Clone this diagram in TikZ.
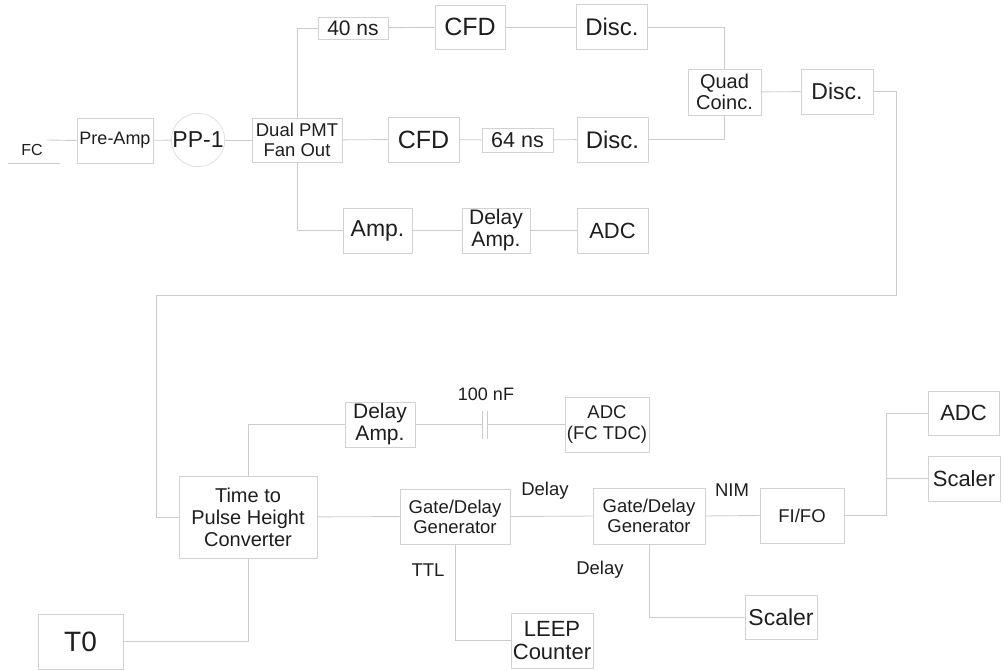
\documentclass[tikz,border=0pt]{standalone}
\usepackage{fontspec}
\setmainfont{Liberation Sans}
\definecolor{boxgray}{HTML}{D2D2D2}
\definecolor{linegray}{HTML}{CCCCCC}
\definecolor{circgray}{HTML}{E2E2E2}
\definecolor{txt}{HTML}{1E1E1E}
\begin{document}
\begin{tikzpicture}[x=1pt,y=-1pt,
  box/.style={draw=boxgray,line width=0.9pt,inner sep=0pt,align=center,text=txt},
  lbl/.style={inner sep=0pt,text=txt,align=center},
  wire/.style={draw=linegray,line width=0.9pt}]
\useasboundingbox (0,0) rectangle (1005,671);
% top section
\node[lbl,font=\fontsize{16}{18}\selectfont] (fc) at (32,150) {FC};
\node[box,minimum width=76,minimum height=45,font=\fontsize{18}{20}\selectfont] (pre) at (115,140.5) {Pre-Amp};
\node[box,draw=circgray,circle,minimum size=52,font=\fontsize{23}{25}\selectfont] (pp1) at (198,140) {PP-1};
\node[box,minimum width=90,minimum height=44,font=\fontsize{18.5}{20}\selectfont] (dual) at (297,140) {Dual PMT\\Fan Out};
\node[box,minimum width=70,minimum height=22,font=\fontsize{21}{22}\selectfont] (d40) at (353,28) {40 ns};
\node[box,minimum width=70,minimum height=44,font=\fontsize{25}{27}\selectfont] (cfd1) at (470,27) {CFD};
\node[box,minimum width=71,minimum height=45,font=\fontsize{24}{26}\selectfont] (disc1) at (612,27) {Disc.};
\node[box,minimum width=71,minimum height=45,font=\fontsize{25}{27}\selectfont] (cfd2) at (423.5,139.5) {CFD};
\node[box,minimum width=71,minimum height=24,font=\fontsize{21.5}{23}\selectfont] (d64) at (517.5,140) {64 ns};
\node[box,minimum width=71,minimum height=45,font=\fontsize{24}{26}\selectfont] (disc2) at (612.5,139.5) {Disc.};
\node[box,minimum width=73,minimum height=46,font=\fontsize{20}{21}\selectfont] (quad) at (724.5,92) {Quad\\Coinc.};
\node[box,minimum width=72,minimum height=45,font=\fontsize{23}{25}\selectfont] (disc3) at (837,91.5) {Disc.};
\node[box,minimum width=69,minimum height=45,font=\fontsize{23}{25}\selectfont] (amp) at (377.5,230.5) {Amp.};
\node[box,minimum width=68,minimum height=45,font=\fontsize{21}{22}\selectfont] (dampt) at (496,230.5) {Delay\\Amp.};
\node[box,minimum width=71,minimum height=45,font=\fontsize{22}{24}\selectfont] (adc1) at (612.5,230.5) {ADC};
% bottom section
\node[box,minimum width=138,minimum height=82,font=\fontsize{20}{22}\selectfont] (tphc) at (248,517) {Time to\\Pulse Height\\Converter};
\node[box,minimum width=70,minimum height=45,font=\fontsize{21}{22}\selectfont] (dampb) at (380,424.5) {Delay\\Amp.};
\node[box,minimum width=84,minimum height=55,font=\fontsize{18.5}{20.5}\selectfont] (adcfc) at (607,424.5) {ADC\\(FC TDC)};
\node[box,minimum width=110,minimum height=55,font=\fontsize{18.5}{20}\selectfont] (gate1) at (455,516.5) {Gate/Delay\\Generator};
\node[box,minimum width=112,minimum height=56,font=\fontsize{18.5}{20}\selectfont] (gate2) at (649,516) {Gate/Delay\\Generator};
\node[box,minimum width=84,minimum height=55,font=\fontsize{18.5}{20}\selectfont] (fifo) at (802,515.5) {FI/FO};
\node[box,minimum width=82,minimum height=55,font=\fontsize{22}{23}\selectfont] (leep) at (552,640.5) {LEEP\\Counter};
\node[box,minimum width=72,minimum height=44,font=\fontsize{23}{25}\selectfont] (scal1) at (781,617) {Scaler};
\node[box,minimum width=71,minimum height=44,font=\fontsize{22}{24}\selectfont] (adc2) at (963.5,413) {ADC};
\node[box,minimum width=72,minimum height=45,font=\fontsize{22}{24}\selectfont] (scal2) at (964,478.5) {Scaler};
\node[box,minimum width=85,minimum height=55,font=\fontsize{28}{30}\selectfont] (t0) at (80.5,641.5) {T0};
% labels
\node[lbl,font=\fontsize{18}{20}\selectfont] (l100) at (486,394) {100 nF};
\node[lbl,font=\fontsize{18.5}{20}\selectfont] (lttl) at (428,570) {TTL};
\node[lbl,font=\fontsize{18.5}{20}\selectfont] (ldel1) at (545,491) {Delay};
\node[lbl,font=\fontsize{18.5}{20}\selectfont] (ldel2) at (600,570) {Delay};
\node[lbl,font=\fontsize{18.5}{20}\selectfont] (lnim) at (732,490) {NIM};
% coordinates
\coordinate (fcend) at (47,140);
\coordinate (c1) at (896,295);
\coordinate (c2) at (156,295);
\coordinate (capL) at (482,424.5);
\coordinate (capR) at (487,424.5);
\coordinate (bx) at (886,515.5);
% wires top
\draw[wire] (8,163) -- (60,163);
\draw[wire] (fcend) -- (pre.west);
\draw[wire] (pre) -- (pp1);
\draw[wire] (pp1) -- (dual);
\draw[wire] (dual.north) |- (d40.west);
\draw[wire] (d40) -- (cfd1);
\draw[wire] (cfd1) -- (disc1);
\draw[wire] (disc1.east) -| (quad.north);
\draw[wire] (dual) -- (cfd2);
\draw[wire] (cfd2) -- (d64);
\draw[wire] (d64) -- (disc2);
\draw[wire] (disc2.east) -| (quad.south);
\draw[wire] (quad) -- (disc3);
\draw[wire] (dual.south) |- (amp.west);
\draw[wire] (amp) -- (dampt);
\draw[wire] (dampt) -- (adc1);
\draw[wire] (disc3.east) -| (c1) -- (c2) |- (tphc.west);
% wires bottom
\draw[wire] (tphc.north) |- (dampb.west);
\draw[wire] (dampb.east) -- (capL);
\draw[wire] (482,411) -- (482,439);
\draw[wire] (487,411) -- (487,439);
\draw[wire] (capR) -- (adcfc.west);
\draw[wire] (tphc) -- (gate1);
\draw[wire] (gate1.south) |- (leep.west);
\draw[wire] (gate1.east) -- (gate2.west);
\draw[wire] (gate2.east) -- (fifo.west);
\draw[wire] (gate2.south) |- (scal1.west);
\draw[wire] (fifo.east) -- (bx) |- (adc2.west);
\draw[wire] (bx) |- (scal2.west);
\draw[wire] (t0.east) -| (tphc.south);
\end{tikzpicture}
\end{document}
